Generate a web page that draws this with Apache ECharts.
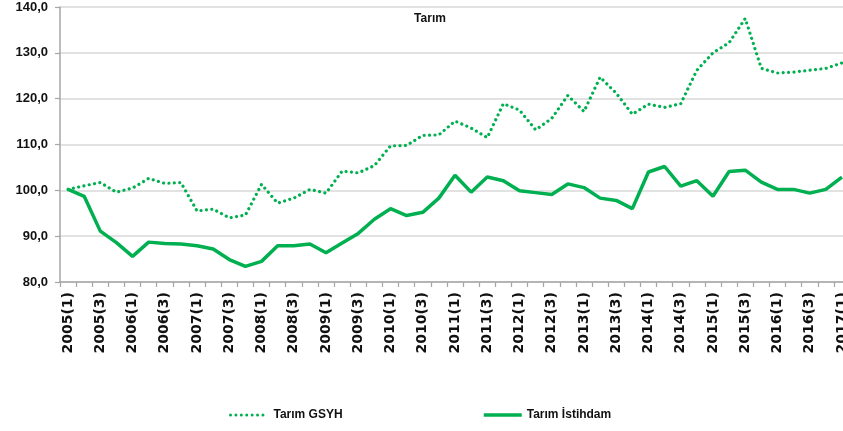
<!DOCTYPE html>
<html>
<head>
<meta charset="utf-8">
<script src="https://cdn.jsdelivr.net/npm/echarts@6/dist/echarts.min.js"></script>
<style>
html,body{margin:0;padding:0;background:#fff;}
#chart{width:843px;height:431px;}
</style>
</head>
<body>
<div id="chart"></div>
<script>
var years = [2005,2006,2007,2008,2009,2010,2011,2012,2013,2014,2015,2016];
var categories = [];
years.forEach(function(y){ for (var q = 1; q <= 4; q++) categories.push(y + '(' + q + ')'); });
categories.push('2017(1)');

var titleText = 'Tarım';
var seriesNames = ['Tarım GSYH', 'Tarım İstihdam'];

var gsyh = [100.2,101.0,101.7,99.6,100.5,102.6,101.5,101.7,95.5,95.9,94.0,94.6,101.3,97.2,98.3,100.2,
            99.4,104.2,103.8,105.4,109.7,109.8,112.0,112.1,115.1,113.6,111.5,118.9,117.5,113.2,115.7,120.7,
            117.2,124.7,121.2,116.6,118.8,118.1,118.9,126.2,130.0,132.2,137.5,126.6,125.6,125.8,126.2,126.6,127.8];
var istihdam = [100.2,98.7,91.1,88.6,85.6,88.7,88.4,88.3,87.9,87.2,84.9,83.4,84.5,87.9,87.9,88.3,
                86.4,88.5,90.6,93.7,96.0,94.5,95.2,98.3,103.3,99.6,102.9,102.1,99.9,99.5,99.1,101.4,
                100.6,98.3,97.8,96.0,104.0,105.2,100.9,102.1,98.7,104.1,104.4,101.8,100.2,100.2,99.4,100.2,102.9];

var green = '#00B050';
var legendText = {fontFamily: 'Liberation Sans', fontWeight: 'bold', fontSize: 12, color: '#111'};
var chart = echarts.init(document.getElementById('chart'), null, {renderer: 'canvas'});
chart.setOption({
  animation: false,
  backgroundColor: '#fff',
  title: {
    text: titleText, left: 430, top: 13, textAlign: 'center', padding: 0,
    textStyle: {fontFamily: 'Liberation Sans', fontWeight: 'bold', fontSize: 12, color: '#111'}
  },
  legend: [
    {
      data: [seriesNames[0]], left: 229, top: 409, padding: 0, itemWidth: 34, itemHeight: 14, itemGap: 0,
      itemStyle: {opacity: 0},
      lineStyle: {width: 3, type: [0.01, 5.4], cap: 'round', color: green},
      textStyle: Object.assign({padding: [0,0,0,4]}, legendText)
    },
    {
      data: [seriesNames[1]], left: 482, top: 409, padding: 0, itemWidth: 38, itemHeight: 14, itemGap: 0,
      itemStyle: {opacity: 0},
      lineStyle: {width: 3.5, color: green},
      textStyle: legendText
    }
  ],
  grid: {left: 60, top: 7, width: 790, height: 275, containLabel: false, outerBoundsMode: 'none'},
  xAxis: {
    type: 'category', data: categories, boundaryGap: true,
    axisLine: {lineStyle: {color: '#a6a6a6', width: 1.5}},
    axisTick: {show: true, interval: 0, alignWithLabel: false, length: 5, lineStyle: {color: '#a6a6a6', width: 1.2}},
    axisLabel: {interval: 1, rotate: 90, margin: 10, fontFamily: 'DejaVu Sans', fontWeight: 'bold', fontSize: 14, color: '#111'},
    splitLine: {show: false}
  },
  yAxis: {
    type: 'value', min: 80, max: 140, interval: 10,
    axisLine: {show: true, lineStyle: {color: '#a6a6a6', width: 1.5}},
    axisTick: {show: true, length: 5, lineStyle: {color: '#a6a6a6', width: 1.2}},
    axisLabel: {
      margin: 12, fontFamily: 'Liberation Sans', fontWeight: 'bold', fontSize: 13, color: '#111',
      formatter: function(v){ return v.toFixed(1).replace('.', ','); }
    },
    splitLine: {show: true, lineStyle: {color: '#d9d9d9', width: 1.5}}
  },
  series: [
    {
      name: seriesNames[0], type: 'line', data: gsyh, symbol: 'none', showSymbol: false,
      itemStyle: {color: green},
      lineStyle: {color: green, width: 3.2, type: [0.01, 5.4], cap: 'round'}
    },
    {
      name: seriesNames[1], type: 'line', data: istihdam, symbol: 'none', showSymbol: false,
      itemStyle: {color: green},
      lineStyle: {color: green, width: 3.5, type: 'solid'}
    }
  ]
});
</script>
</body>
</html>
